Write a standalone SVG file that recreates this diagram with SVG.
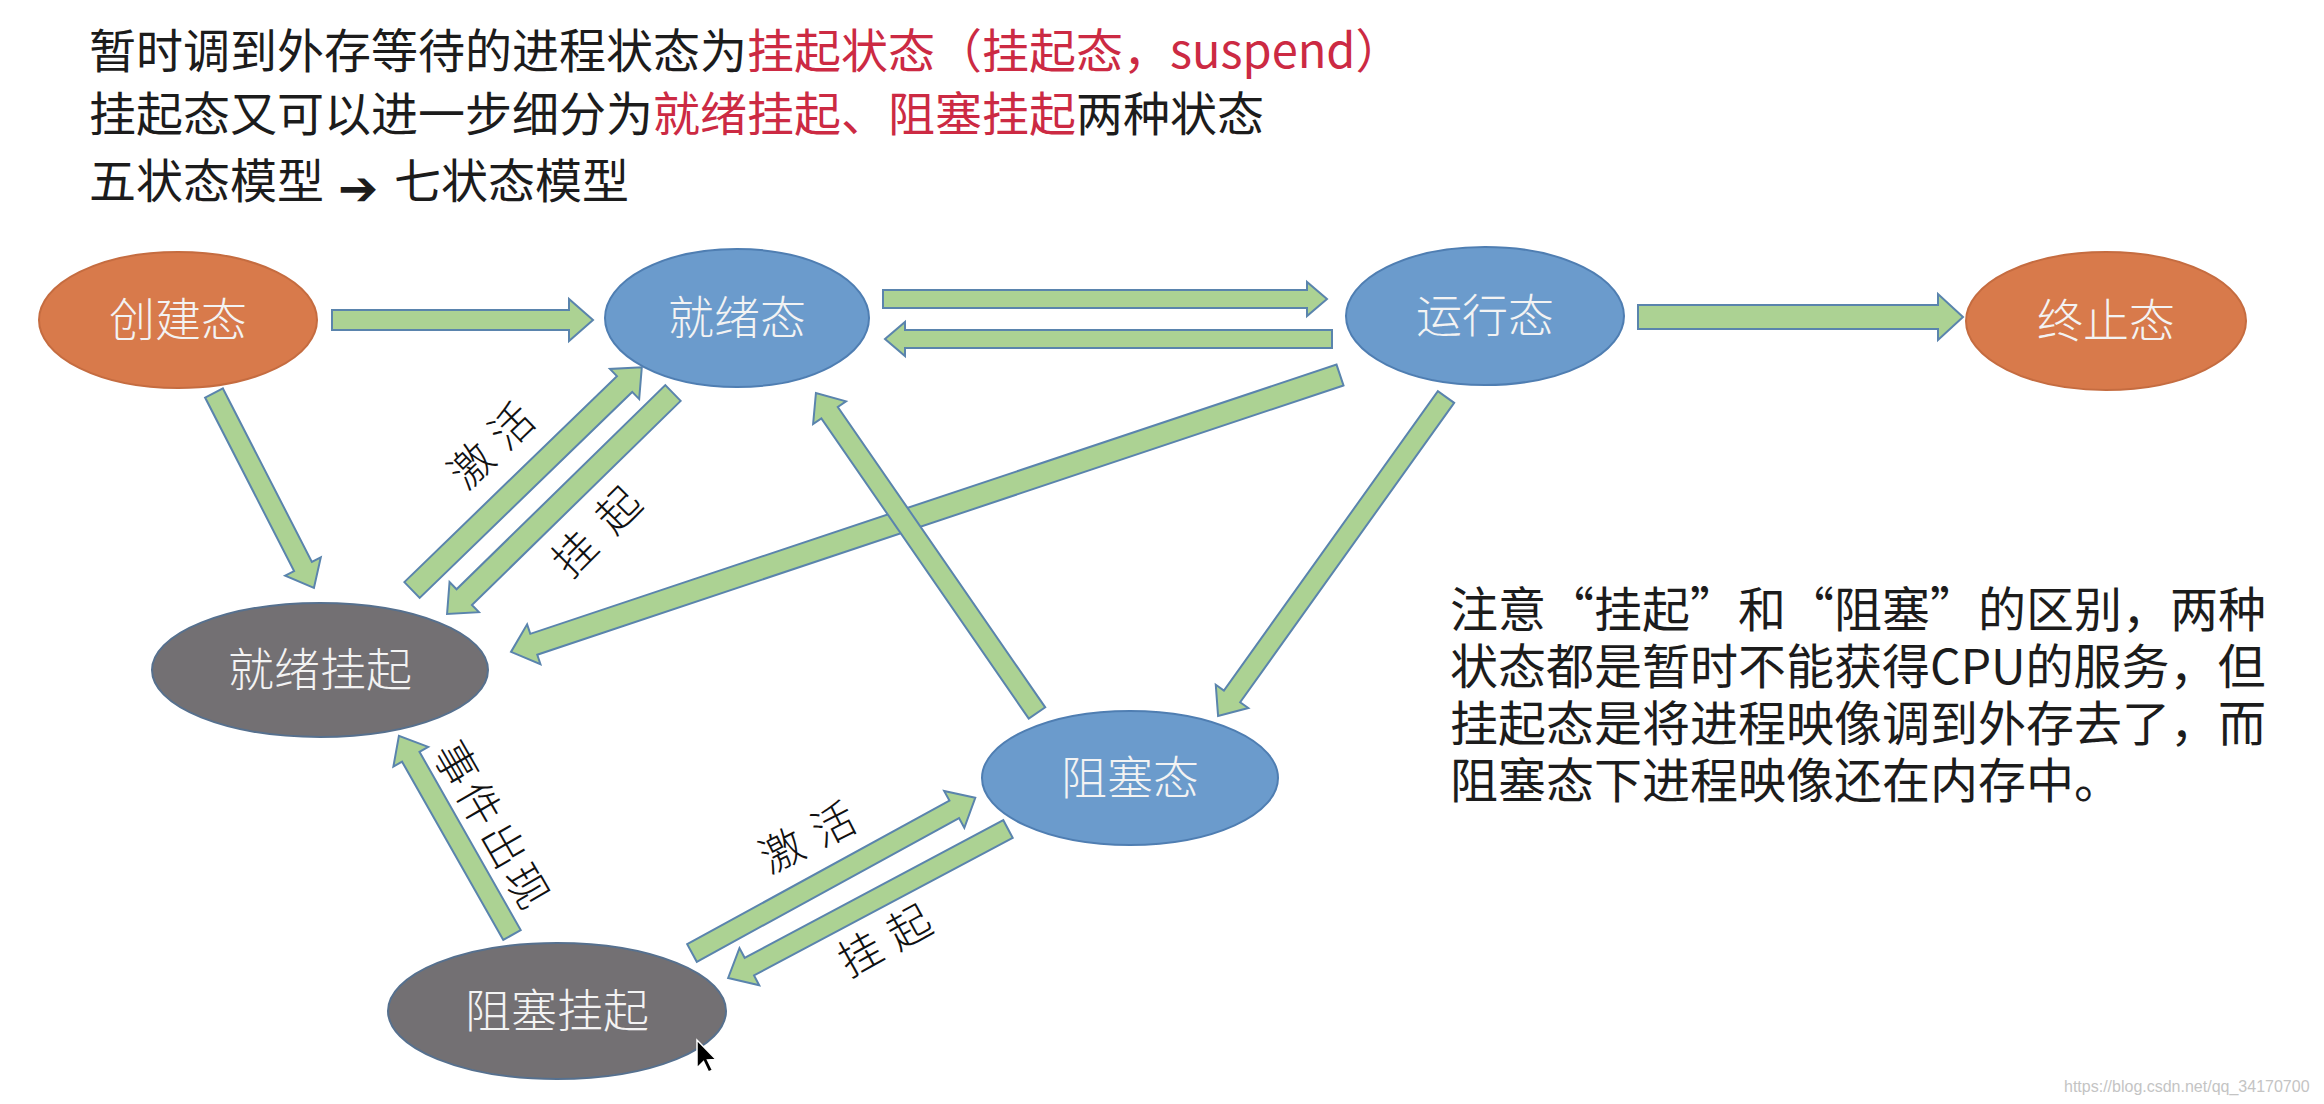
<svg xmlns="http://www.w3.org/2000/svg" width="2324" height="1104" viewBox="0 0 2324 1104">
<style>
  text { font-family: "Noto Sans CJK SC", "Noto Sans", "DejaVu Sans", sans-serif; }
  .hdr { font-size: 47px; fill: #1c1c1c; }
  .red { fill: #cc2a43; }
  .note { font-size: 48px; fill: #1c1c1c; }
  .ntxt { font-size: 46px; fill: #f3f3f3; text-anchor: middle; font-weight: 300; }
  .lbl { font-size: 43px; fill: #111; text-anchor: middle; font-weight: 300; }
  .arrow { fill: #acd293; stroke: #5a84ad; stroke-width: 2; stroke-linejoin: miter; }
  .orange { fill: #d87a4b; stroke: #c56c40; stroke-width: 2; }
  .blue { fill: #6b9bcc; stroke: #4f7eb2; stroke-width: 2; }
  .gray { fill: #737073; stroke: #56708e; stroke-width: 2; }
</style>
<rect width="2324" height="1104" fill="#ffffff"/>

<g id="header">
  <text class="hdr" x="89" y="68">暂时调到外存等待的进程状态为<tspan class="red">挂起状态（挂起态，suspend）</tspan></text>
  <text class="hdr" x="89" y="131">挂起态又可以进一步细分为<tspan class="red">就绪挂起、阻塞挂起</tspan>两种状态</text>
  <text class="hdr" x="89" y="198">五状态模型</text>
  <text class="hdr" x="338" y="205" style="font-family:'DejaVu Sans',sans-serif;font-size:48px;">➔</text>
  <text class="hdr" x="394" y="198">七状态模型</text>
</g>

<g id="connectors">
  <path id="e1" class="arrow" transform="translate(332 320)" d="M0,-10 L237,-10 L237,-21 L261,0 L237,21 L237,10 L0,10 Z"/>
  <path id="e2" class="arrow" transform="translate(883 299)" d="M0,-9 L424,-9 L424,-17 L444,0 L424,17 L424,9 L0,9 Z"/>
  <path id="e3" class="arrow" transform="translate(1332 339) rotate(180)" d="M0,-9 L427,-9 L427,-17 L447,0 L427,17 L427,9 L0,9 Z"/>
  <path id="e4" class="arrow" transform="translate(1638 317)" d="M0,-12 L300,-12 L300,-23 L325,0 L300,23 L300,12 L0,12 Z"/>
  <path id="e5" class="arrow" transform="translate(214 393) rotate(62.85)" d="M0,-10 L195,-10 L195,-20 L219,0 L195,20 L195,10 L0,10 Z"/>
  <path id="e6" class="arrow" transform="translate(412 590) rotate(-44.1)" d="M0,-11 L296,-11 L296,-21 L320,0 L296,21 L296,11 L0,11 Z"/>
  <path id="e7" class="arrow" transform="translate(673 393) rotate(135.64)" d="M0,-11 L292,-11 L292,-21 L316,0 L292,21 L292,11 L0,11 Z"/>
  <path id="e8" class="arrow" transform="translate(1340 375) rotate(161.53)" d="M0,-11 L850,-11 L850,-21 L874,0 L850,21 L850,11 L0,11 Z"/>
  <path id="e9" class="arrow" transform="translate(1037 713) rotate(-124.63)" d="M0,-10 L365,-10 L365,-20 L389,0 L365,20 L365,10 L0,10 Z"/>
  <path id="e10" class="arrow" transform="translate(1446 397) rotate(125.55)" d="M0,-10 L368,-10 L368,-20 L392,0 L368,20 L368,10 L0,10 Z"/>
  <path id="e11" class="arrow" transform="translate(512 935) rotate(-119.59)" d="M0,-10 L205,-10 L205,-20 L229,0 L205,20 L205,10 L0,10 Z"/>
  <path id="e12" class="arrow" transform="translate(692 953) rotate(-28.71)" d="M0,-10 L299,-10 L299,-21 L323,0 L299,21 L299,10 L0,10 Z"/>
  <path id="e13" class="arrow" transform="translate(1008 829) rotate(151.98)" d="M0,-10 L293,-10 L293,-21 L317,0 L293,21 L293,10 L0,10 Z"/>
</g>

<g id="edge-labels">
  <text class="lbl" transform="translate(492 446) rotate(-44)"><tspan x="-28" y="15">激</tspan><tspan x="28" y="15">活</tspan></text>
  <text class="lbl" transform="translate(597 532) rotate(-45)"><tspan x="-31" y="15">挂</tspan><tspan x="31" y="15">起</tspan></text>
  <text class="lbl" transform="translate(491 825) rotate(60)"><tspan x="-71" y="15">事</tspan><tspan x="-24" y="15">件</tspan><tspan x="24" y="15">出</tspan><tspan x="71" y="15">现</tspan></text>
  <text class="lbl" transform="translate(808 838) rotate(-27)"><tspan x="-29" y="15">激</tspan><tspan x="29" y="15">活</tspan></text>
  <text class="lbl" transform="translate(885 941) rotate(-29)"><tspan x="-28" y="15">挂</tspan><tspan x="28" y="15">起</tspan></text>
</g>

<g id="node-create">
  <ellipse class="orange" cx="178" cy="320" rx="139" ry="68"/>
  <text class="ntxt" x="178" y="336">创建态</text>
</g>
<g id="node-ready">
  <ellipse class="blue" cx="737" cy="318" rx="132" ry="69"/>
  <text class="ntxt" x="737" y="334">就绪态</text>
</g>
<g id="node-running">
  <ellipse class="blue" cx="1485" cy="316" rx="139" ry="69"/>
  <text class="ntxt" x="1485" y="332">运行态</text>
</g>
<g id="node-terminated">
  <ellipse class="orange" cx="2106" cy="321" rx="140" ry="69"/>
  <text class="ntxt" x="2106" y="337">终止态</text>
</g>
<g id="node-ready-suspend">
  <ellipse class="gray" cx="320" cy="670" rx="168" ry="67"/>
  <text class="ntxt" x="320" y="686">就绪挂起</text>
</g>
<g id="node-blocked">
  <ellipse class="blue" cx="1130" cy="778" rx="148" ry="67"/>
  <text class="ntxt" x="1130" y="794">阻塞态</text>
</g>
<g id="node-blocked-suspend">
  <ellipse class="gray" cx="557" cy="1011" rx="169" ry="68"/>
  <text class="ntxt" x="557" y="1027">阻塞挂起</text>
</g>

<g id="note">
  <text class="note" x="1450" y="627">注意“挂起”和“阻塞”的区别，两种</text>
  <text class="note" x="1450" y="684">状态都是暂时不能获得CPU的服务，但</text>
  <text class="note" x="1450" y="741">挂起态是将进程映像调到外存去了，而</text>
  <text class="note" x="1450" y="798">阻塞态下进程映像还在内存中。</text>
</g>

<g id="cursor">
  <path d="M697,1040 L697,1068 L703.5,1061.5 L708.5,1072 L712.5,1070.2 L707.5,1060 L716,1059.5 Z" fill="#000" stroke="#fff" stroke-width="1.5"/>
</g>

<text x="2064" y="1092" style="font-family:'Liberation Sans',sans-serif;font-size:16px;fill:#c4c4c4;">https://blog.csdn.net/qq_34170700</text>
</svg>
